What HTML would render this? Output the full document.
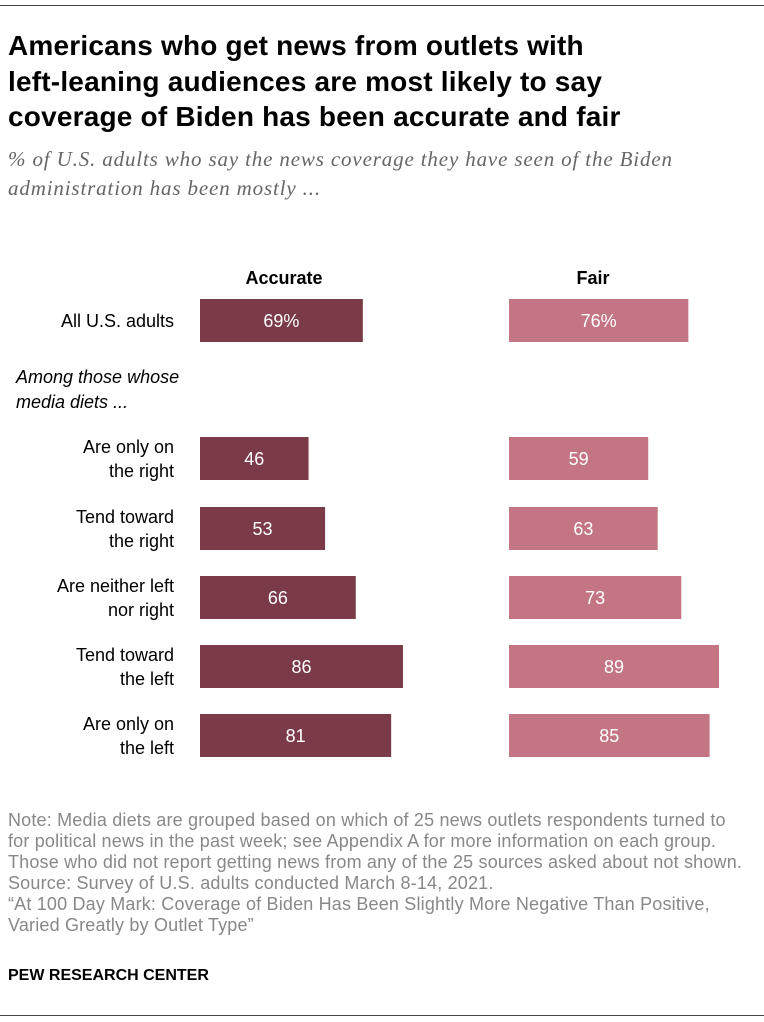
<!DOCTYPE html>
<html><head><meta charset="utf-8"><style>
body{margin:0;width:764px;height:1022px;background:#fff;font-family:"Liberation Sans",sans-serif;position:relative;overflow:hidden}
.abs{position:absolute}
h1{position:absolute;left:8px;top:28px;margin:0;font-size:28px;line-height:35.5px;font-weight:bold;color:#000;white-space:nowrap;letter-spacing:0.2px}
.sub{left:8px;top:145px;font-family:"Liberation Serif",serif;font-style:italic;color:#666;font-size:21px;line-height:29px;white-space:nowrap;letter-spacing:0.85px}
.note{left:8px;top:810px;color:#888;font-size:18px;line-height:21px;white-space:nowrap;letter-spacing:0.18px}
</style></head><body>
<div class="abs" style="left:0;top:5px;width:764px;height:1px;background:#444"></div>
<h1>Americans who get news from outlets with<br>left-leaning audiences are most likely to say<br>coverage of Biden has been accurate and fair</h1>
<div class="abs sub">% of U.S. adults who say the news coverage they have seen of the Biden<br>administration has been mostly ...</div>
<svg class="abs" style="left:0;top:0" width="764" height="800" id="chart"></svg>
<div class="abs note">Note: Media diets are grouped based on which of 25 news outlets respondents turned to<br>for political news in the past week; see Appendix A for more information on each group.<br>Those who did not report getting news from any of the 25 sources asked about not shown.<br>Source: Survey of U.S. adults conducted March 8-14, 2021.<br>“At 100 Day Mark: Coverage of Biden Has Been Slightly More Negative Than Positive,<br>Varied Greatly by Outlet Type”</div>
<div class="abs" style="left:8px;top:967px;font-size:16px;font-weight:bold;color:#000">PEW RESEARCH CENTER</div>
<div class="abs" style="left:0;top:1015px;width:764px;height:1px;background:#444"></div>
<script>
const categories=[["All U.S. adults"],["Are only on","the right"],["Tend toward","the right"],["Are neither left","nor right"],["Tend toward","the left"],["Are only on","the left"]];
const accurate=[69,46,53,66,86,81];
const fair=[76,59,63,73,89,85];
const rowTop=[299,437,507,576,645,714];
const NS="http://www.w3.org/2000/svg";
const svg=document.getElementById('chart');
const scale=2.36, barH=43, accX=200, fairX=509;
function t(x,y,s,attrs){const e=document.createElementNS(NS,'text');e.setAttribute('x',x);e.setAttribute('y',y);e.textContent=s;for(const k in attrs)e.setAttribute(k,attrs[k]);svg.appendChild(e);return e;}
let h=t(284,284,'Accurate',{'text-anchor':'middle','font-size':'18','font-weight':'bold','font-family':'Liberation Sans'});


h=t(593,284,'Fair',{'text-anchor':'middle','font-size':'18','font-weight':'bold','font-family':'Liberation Sans'});


h=t(16,383,'Among those whose',{'font-size':'18','font-style':'italic','font-family':'Liberation Sans'});


h=t(16,408,'media diets ...',{'font-size':'18','font-style':'italic','font-family':'Liberation Sans'});


categories.forEach((c,i)=>{
  const y=rowTop[i];
  if(c.length==1){const l=t(174,y+28,c[0],{'text-anchor':'end','font-size':'18','font-family':'Liberation Sans'});}
  else c.forEach((s,j)=>{const l=t(174,y+16+j*24,s,{'text-anchor':'end','font-size':'18','font-family':'Liberation Sans'});});
  [[accurate,accX,'#7b3a47','accurate'],[fair,fairX,'#c47583','fair']].forEach(([arr,x0,col,nm])=>{
    const w=arr[i]*scale;
    const r=document.createElementNS(NS,'rect');
    r.setAttribute('x',x0);r.setAttribute('y',y);r.setAttribute('width',w);r.setAttribute('height',barH);r.setAttribute('fill',col);
    
    
    svg.appendChild(r);
    const v=t(x0+w/2,y+28,arr[i]+(i==0?'%':''),{'text-anchor':'middle','font-size':'18','fill':'#fff','font-family':'Liberation Sans'});
    
    
  });
});
</script>
</body></html>
